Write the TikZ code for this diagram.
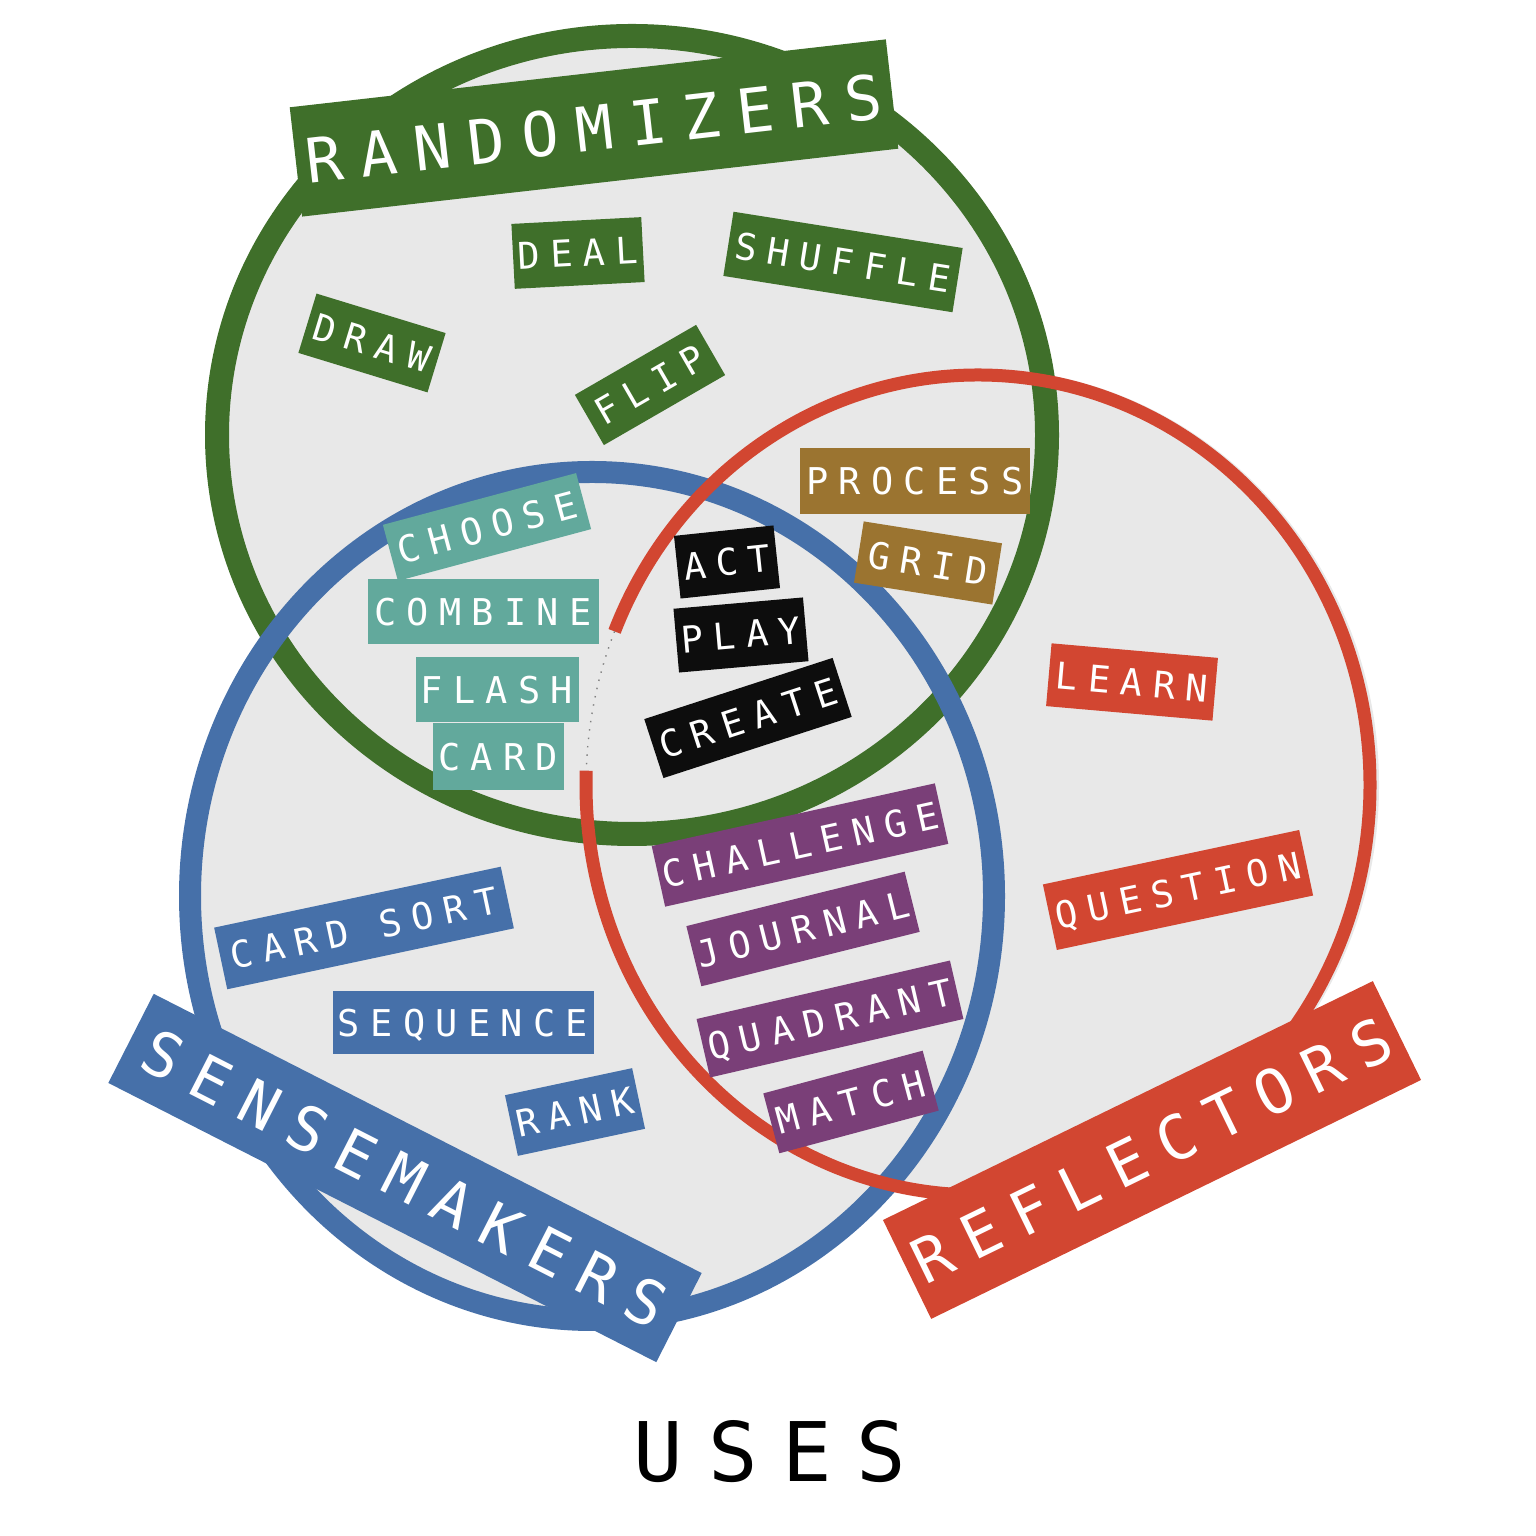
\documentclass[tikz,border=0pt]{standalone}
\usepackage{fontspec}
\newfontfamily\tagfont[LetterSpace=28]{DejaVu Sans Mono}
\newfontfamily\usesfont[LetterSpace=30]{DejaVu Sans Mono}
\newcommand{\tagtxt}[1]{#1\hspace{-0.28em}}
\definecolor{tgreen}{HTML}{3F6F2A}
\definecolor{tteal}{HTML}{62A99C}
\definecolor{tblack}{HTML}{0D0D0D}
\definecolor{tbrown}{HTML}{9B7430}
\definecolor{tred}{HTML}{D24631}
\definecolor{tpurple}{HTML}{7A3F78}
\definecolor{tblue}{HTML}{4670A9}
\definecolor{paper}{HTML}{E8E8E8}
\tikzset{
  tag/.style={fill=#1, text=white, inner sep=0pt, text depth=0pt,
    font=\tagfont\fontsize{10.5}{12}\selectfont},
  bigtag/.style={tag=#1, font=\tagfont\fontsize{17.5}{20}\selectfont},
  ring/.style={draw=#1}
}
\begin{document}
\begin{tikzpicture}
\useasboundingbox (0,0) rectangle (15.36,15.36);
% paper discs
\fill[paper] (6.34,11.01) ellipse [x radius=4.22cm, y radius=4.08cm];
\fill[paper] (5.92,6.40) ellipse [x radius=4.05cm, y radius=4.27cm];
\fill[paper] (9.80,7.51) ellipse [x radius=3.99cm, y radius=4.16cm];
% outlines
\draw[ring=tgreen, line width=0.24cm] (6.32,11.01) ellipse [x radius=4.15cm, y radius=3.99cm];
\draw[ring=tblue, line width=0.22cm] (5.92,6.40) ellipse [x radius=4.02cm, y radius=4.24cm];
\draw[ring=tred, line width=0.13cm] (9.78,7.51) ++(178:3.92cm and 4.10cm)
  arc[start angle=178, end angle=518, x radius=3.92cm, y radius=4.10cm];
\draw[gray, dotted, line width=0.4pt] (9.78,7.51) ++(158:3.92cm and 4.10cm)
  arc[start angle=158, end angle=178, x radius=3.92cm, y radius=4.10cm];
% randomizers
\node[bigtag=tgreen, minimum width=6.0cm, minimum height=1.1cm, rotate=6.5] (randomizers) at (5.94,14.08) {\tagtxt{RANDOMIZERS}};
\node[tag=tgreen, minimum width=1.30cm, minimum height=0.65cm, rotate=3] (deal) at (5.78,12.83) {\tagtxt{DEAL}};
\node[tag=tgreen, minimum width=2.32cm, minimum height=0.65cm, rotate=-9] (shuffle) at (8.43,12.74) {\tagtxt{SHUFFLE}};
\node[tag=tgreen, minimum width=1.35cm, minimum height=0.62cm, rotate=-17] (draw) at (3.72,11.93) {\tagtxt{DRAW}};
\node[tag=tgreen, minimum width=1.40cm, minimum height=0.58cm, rotate=30] (flip) at (6.50,11.51) {\tagtxt{FLIP}};
% teal
\node[tag=tteal, minimum width=2.0cm, minimum height=0.58cm, rotate=15] (choose) at (4.87,10.09) {\tagtxt{CHOOSE}};
\node[tag=tteal, minimum width=2.31cm, minimum height=0.65cm] (combine) at (4.83,9.24) {\tagtxt{COMBINE}};
\node[tag=tteal, minimum width=1.63cm, minimum height=0.65cm] (flash) at (4.97,8.46) {\tagtxt{FLASH}};
\node[tag=tteal, minimum width=1.31cm, minimum height=0.67cm] (card) at (4.98,7.79) {\tagtxt{CARD}};
% black
\node[tag=tblack, minimum width=1.0cm, minimum height=0.63cm, rotate=6] (act) at (7.27,9.74) {\tagtxt{ACT}};
\node[tag=tblack, minimum width=1.30cm, minimum height=0.64cm, rotate=5] (play) at (7.41,9.01) {\tagtxt{PLAY}};
\node[tag=tblack, minimum width=1.98cm, minimum height=0.62cm, rotate=18] (create) at (7.48,8.18) {\tagtxt{CREATE}};
% brown
\node[tag=tbrown, minimum width=2.30cm, minimum height=0.66cm] (process) at (9.15,10.55) {\tagtxt{PROCESS}};
\node[tag=tbrown, minimum width=1.40cm, minimum height=0.62cm, rotate=-9] (grid) at (9.28,9.73) {\tagtxt{GRID}};
% red
\node[tag=tred, minimum width=1.67cm, minimum height=0.63cm, rotate=-5] (learn) at (11.32,8.54) {\tagtxt{LEARN}};
\node[tag=tred, minimum width=2.62cm, minimum height=0.67cm, rotate=12] (question) at (11.78,6.46) {\tagtxt{QUESTION}};
\node[bigtag=tred, minimum width=5.45cm, minimum height=1.1cm, rotate=26] (reflectors) at (11.52,3.86) {\tagtxt{REFLECTORS}};
% purple
\node[tag=tpurple, minimum width=2.90cm, minimum height=0.62cm, rotate=12.5] (challenge) at (8.00,6.91) {\tagtxt{CHALLENGE}};
\node[tag=tpurple, minimum width=2.25cm, minimum height=0.62cm, rotate=14] (journal) at (8.03,6.07) {\tagtxt{JOURNAL}};
\node[tag=tpurple, minimum width=2.60cm, minimum height=0.60cm, rotate=13] (quadrant) at (8.30,5.17) {\tagtxt{QUADRANT}};
\node[tag=tpurple, minimum width=1.65cm, minimum height=0.62cm, rotate=15] (match) at (8.51,4.34) {\tagtxt{MATCH}};
% blue
\node[tag=tblue, minimum width=2.93cm, minimum height=0.63cm, rotate=12] (cardsort) at (3.64,6.08) {\tagtxt{CARD SORT}};
\node[tag=tblue, minimum width=2.61cm, minimum height=0.63cm] (sequence) at (4.63,5.13) {\tagtxt{SEQUENCE}};
\node[tag=tblue, minimum width=1.30cm, minimum height=0.62cm, rotate=12] (rank) at (5.75,4.24) {\tagtxt{RANK}};
\node[bigtag=tblue, minimum width=6.15cm, minimum height=1.0cm, rotate=-27] (sensemakers) at (4.05,3.58) {\tagtxt{SENSEMAKERS}};
% title
\node[inner sep=0pt, font=\usesfont\fontsize{23.4}{26}\selectfont] (uses) at (7.70,0.84) {USES\hspace{-0.30em}};
\end{tikzpicture}
\end{document}
